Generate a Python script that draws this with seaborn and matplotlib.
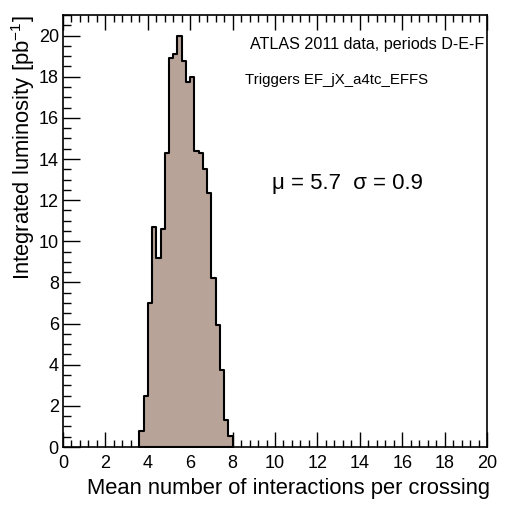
import numpy as np
import pandas as pd
import matplotlib
matplotlib.use("Agg")
import matplotlib.pyplot as plt
from matplotlib.ticker import MultipleLocator
import seaborn as sns

# Data: histogram of mean interactions per crossing (bin width 0.2)
bin_edges = [3.6, 3.8, 4.0, 4.2, 4.4, 4.6, 4.8, 5.0, 5.2, 5.4, 5.6, 5.8,
             6.0, 6.2, 6.4, 6.6, 6.8, 7.0, 7.2, 7.4, 7.6, 7.8, 8.0]
luminosity = [0.78, 2.5, 7.0, 10.7, 9.2, 10.6, 14.3, 18.9, 19.1, 20.0, 18.75,
              17.75, 18.0, 14.4, 14.3, 13.5, 12.35, 8.2, 5.95, 3.73, 1.3, 0.55]
x_ticks = [0, 2, 4, 6, 8, 10, 12, 14, 16, 18, 20]
y_ticks = [0, 2, 4, 6, 8, 10, 12, 14, 16, 18, 20]

centers = [(a + b) / 2 for a, b in zip(bin_edges[:-1], bin_edges[1:])]
df = pd.DataFrame({"mu": centers, "lumi": luminosity})

sns.set_theme(style="white")
plt.rcParams["font.family"] = ["Liberation Sans", "DejaVu Sans"]
plt.rcParams["mathtext.default"] = "regular"

fig = plt.figure(figsize=(5.05, 5.05), dpi=100)
ax = fig.add_axes([63 / 505, 1 - 447 / 505, 424 / 505, 432 / 505])

sns.histplot(data=df, x="mu", weights="lumi", bins=bin_edges, element="step",
             fill=True, color="#b7a398", alpha=1.0, edgecolor="black",
             linewidth=1.5, ax=ax)

ax.set_xlim(0, 20)
ax.set_ylim(0, 21)
ax.set_xticks(x_ticks)
ax.set_yticks(y_ticks)
ax.set_xticklabels([str(t) for t in x_ticks])
ax.set_yticklabels([str(t) for t in y_ticks])
ax.xaxis.set_minor_locator(MultipleLocator(0.4))
ax.yaxis.set_minor_locator(MultipleLocator(0.5))

ax.tick_params(axis="x", which="both", direction="in", top=True, bottom=True,
               labelsize=13, pad=6, colors="black")
ax.tick_params(axis="y", which="both", direction="in", left=True, right=False,
               labelsize=13, pad=3, colors="black")
ax.tick_params(axis="x", which="major", length=11, width=1)
ax.tick_params(axis="x", which="minor", length=5, width=1)
ax.tick_params(axis="y", which="major", length=12, width=1)
ax.tick_params(axis="y", which="minor", length=6, width=1)

for s in ax.spines.values():
    s.set_color("black")
    s.set_linewidth(1.2)

ax.set_xlabel("Mean number of interactions per crossing", fontsize=15.8,
              color="black")
ax.xaxis.set_label_coords(1.006, -0.072)
ax.xaxis.label.set_horizontalalignment("right")
ax.set_ylabel("Integrated luminosity [pb$^{-1}$]", fontsize=15.8, color="black")
ax.yaxis.set_label_coords(-0.062, 0.998)
ax.yaxis.label.set_horizontalalignment("right")

ax.text(484 / 505, 1 - 45 / 505, "ATLAS 2011 data, periods D-E-F",
        transform=fig.transFigure, ha="right", va="center", fontsize=11.6,
        color="black")
ax.text(245 / 505, 1 - 80 / 505, "Triggers EF_jX_a4tc_EFFS",
        transform=fig.transFigure, ha="left", va="center", fontsize=10.8,
        color="black")
ax.text(272 / 505, 1 - 183 / 505, "\u03bc = 5.7  \u03c3 = 0.9",
        transform=fig.transFigure, ha="left", va="center", fontsize=16,
        color="black")

fig.savefig("out.png", dpi=100)
